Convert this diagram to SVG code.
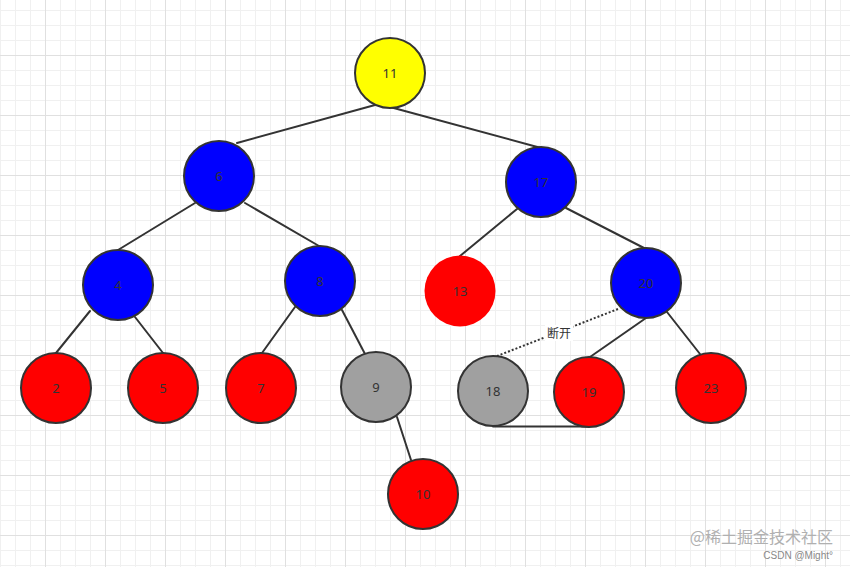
<svg xmlns="http://www.w3.org/2000/svg" width="850" height="567" viewBox="0 0 850 567">
<defs>
<pattern id="grid" x="45" y="55" width="60" height="60" patternUnits="userSpaceOnUse">
<rect x="15" y="0" width="1" height="60" fill="#f0f0f0"/>
<rect x="30" y="0" width="1" height="60" fill="#f0f0f0"/>
<rect x="45" y="0" width="1" height="60" fill="#f0f0f0"/>
<rect x="0" y="15" width="60" height="1" fill="#f0f0f0"/>
<rect x="0" y="30" width="60" height="1" fill="#f0f0f0"/>
<rect x="0" y="45" width="60" height="1" fill="#f0f0f0"/>
<rect x="0" y="0" width="1" height="60" fill="#e0e0e0"/>
<rect x="0" y="0" width="60" height="1" fill="#e0e0e0"/>
</pattern>
</defs>
<style>
.edge{stroke:#333333;stroke-width:2;fill:none;stroke-linecap:round}
.dot{stroke:#333333;stroke-width:2;fill:none;stroke-dasharray:2 2}
.n{stroke:#333333;stroke-width:2}
.t{font-family:"Noto Sans","Open Sans",sans-serif;font-size:13px;fill:#333333;text-anchor:middle}
.y{fill:#ffff00}.b{fill:#0000ff}.r{fill:#ff0000}.g{fill:#a0a0a0}
</style>
<rect width="850" height="567" fill="#ffffff"/>
<rect width="850" height="567" fill="url(#grid)"/>
<g id="connectors">
<line class="edge" x1="375" y1="105" x2="237" y2="143"/>
<line class="edge" x1="390" y1="107" x2="541" y2="148"/>
<line class="edge" x1="195" y1="203" x2="118" y2="250"/>
<line class="edge" x1="245" y1="203" x2="319" y2="246"/>
<line class="edge" x1="517" y1="209" x2="460" y2="256"/>
<line class="edge" x1="566" y1="208" x2="644" y2="248"/>
<line class="edge" x1="90" y1="311" x2="56" y2="353"/>
<line class="edge" x1="135" y1="317" x2="163" y2="353"/>
<line class="edge" x1="295" y1="307" x2="262" y2="353"/>
<line class="edge" x1="342" y1="310" x2="365" y2="354"/>
<line class="edge" x1="397" y1="417" x2="411" y2="460"/>
<line class="edge" x1="646" y1="318" x2="590" y2="357"/>
<line class="edge" x1="667" y1="312" x2="700" y2="354"/>
<line class="edge" x1="493" y1="426.5" x2="589" y2="426.5"/>
<line class="dot" x1="618" y1="309" x2="497" y2="356"/>
<rect x="545" y="325" width="28" height="16" fill="#ffffff"/>
<text x="559" y="338" font-family="'Noto Sans CJK SC',sans-serif" font-size="12" fill="#333333" text-anchor="middle">断开</text>
</g>
<g id="n11"><circle class="n y" cx="390" cy="73" r="35"/><text class="t" x="390" y="78">11</text></g>
<g id="n6"><circle class="n b" cx="219" cy="176" r="35"/><text class="t" x="219" y="181">6</text></g>
<g id="n17"><circle class="n b" cx="541" cy="182" r="35"/><text class="t" x="541" y="187">17</text></g>
<g id="n4"><circle class="n b" cx="118" cy="285" r="35"/><text class="t" x="118" y="290">4</text></g>
<g id="n8"><circle class="n b" cx="320" cy="281" r="35"/><text class="t" x="320" y="286">8</text></g>
<g id="n13"><circle class="r" cx="460" cy="291" r="35.5"/><text class="t" x="460" y="296">13</text></g>
<g id="n20"><circle class="n b" cx="646" cy="283" r="35"/><text class="t" x="646" y="288">20</text></g>
<g id="n2"><circle class="n r" cx="56" cy="388" r="35"/><text class="t" x="56" y="393">2</text></g>
<g id="n5"><circle class="n r" cx="163" cy="388" r="35"/><text class="t" x="163" y="393">5</text></g>
<g id="n7"><circle class="n r" cx="261" cy="388" r="35"/><text class="t" x="261" y="393">7</text></g>
<g id="n9"><circle class="n g" cx="376" cy="387" r="35"/><text class="t" x="376" y="392">9</text></g>
<g id="n18"><circle class="n g" cx="493" cy="391" r="35"/><text class="t" x="493" y="396">18</text></g>
<g id="n19"><circle class="n r" cx="589" cy="392" r="35"/><text class="t" x="589" y="397">19</text></g>
<g id="n23"><circle class="n r" cx="711" cy="388" r="35"/><text class="t" x="711" y="393">23</text></g>
<g id="n10"><circle class="n r" cx="423" cy="494" r="35"/><text class="t" x="423" y="499">10</text></g>
<text x="833" y="543" font-family="'Noto Sans CJK SC',sans-serif" font-size="16" fill="#b0b0b0" text-anchor="end">@稀土掘金技术社区</text>
<text x="833" y="559" font-family="'Liberation Sans',sans-serif" font-size="10" fill="#888888" text-anchor="end">CSDN @Might°</text>
</svg>
